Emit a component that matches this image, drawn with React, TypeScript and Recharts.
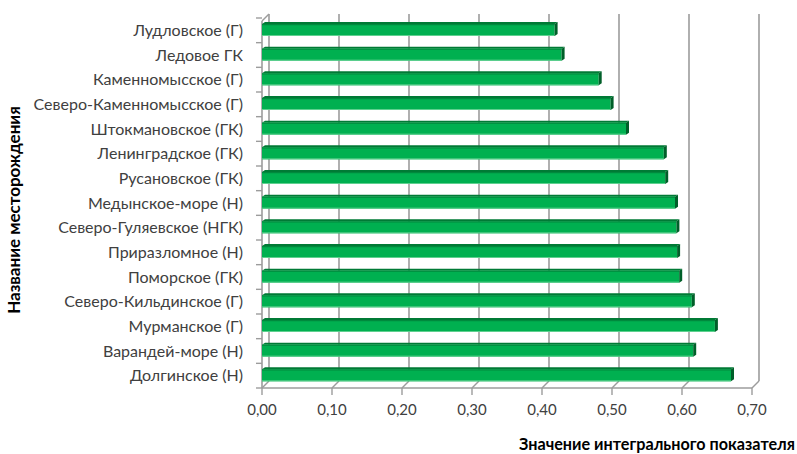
import { Bar, BarChart, CartesianGrid, XAxis, YAxis } from "recharts";

const fields = [
  "Лудловское (Г)",
  "Ледовое ГК",
  "Каменномысское (Г)",
  "Северо-Каменномысское (Г)",
  "Штокмановское (ГК)",
  "Ленинградское (ГК)",
  "Русановское (ГК)",
  "Медынское-море (Н)",
  "Северо-Гуляевское (НГК)",
  "Приразломное (Н)",
  "Поморское (ГК)",
  "Северо-Кильдинское (Г)",
  "Мурманское (Г)",
  "Варандей-море (Н)",
  "Долгинское (Н)",
];
const scores = [0.418, 0.428, 0.481, 0.498, 0.52, 0.574, 0.576, 0.59, 0.592, 0.593, 0.596, 0.614, 0.647, 0.616, 0.67];
const xTicks = [0, 0.1, 0.2, 0.3, 0.4, 0.5, 0.6, 0.7];

const data = fields.map((name, i) => ({ name, value: scores[i] }));

const W = 797;
const H = 454;
const X_AXIS_H = 30;
const M = { top: 18, right: 45, bottom: 66 - X_AXIS_H, left: 0 };
const AXIS_W = 262;
const PLOT_H = H - M.top - M.bottom - X_AXIS_H;
const BAND = PLOT_H / fields.length;
const DX = 7; // depth offset of the back wall
const DY = 7;
const FONT = "Lato, 'Open Sans', sans-serif";
const GRID = "#9c9c9c";

// back-wall gridline + the short diagonal down to the front axis
function WallLine(props: any) {
  const { x1, y1, y2, index } = props;
  return (
    <g>
      <line x1={x1 + DX} y1={y1 - 4} x2={x1 + DX} y2={y2 - DY} stroke={GRID} strokeWidth={1.6} />
      <line x1={x1 + DX} y1={y2 - DY} x2={x1} y2={y2} stroke={GRID} strokeWidth={1.4} />
      {index === 0 && (
        <g>
          <line x1={x1} y1={y1 + 3} x2={x1} y2={y2} stroke={GRID} strokeWidth={1.6} />
          <line x1={x1} y1={y1 + 3} x2={x1 + DX} y2={y1 - 4} stroke={GRID} strokeWidth={1.4} />
        </g>
      )}
    </g>
  );
}

function FieldTick(props: any) {
  const { x, y, payload, index } = props;
  const ax = AXIS_W;
  return (
    <g>
      <line x1={ax - 6} y1={y - BAND / 2} x2={ax} y2={y - BAND / 2} stroke={GRID} strokeWidth={1.4} />
      {index === fields.length - 1 && (
        <line x1={ax - 6} y1={y + BAND / 2} x2={ax} y2={y + BAND / 2} stroke={GRID} strokeWidth={1.4} />
      )}
      <text x={x} y={y} dy="0.35em" textAnchor="end" fill="#404040" fontSize={16} fontFamily={FONT}>
        {payload.value}
      </text>
    </g>
  );
}

// flat bar with a thin top face and right end face
function Bar3D(props: any) {
  const { x, y, width, height } = props;
  const d = 3;
  const e = 2;
  return (
    <g>
      <polygon points={`${x},${y} ${x + d},${y - e} ${x + width + d},${y - e} ${x + width},${y}`} fill="#007a35" />
      <rect x={x} y={y} width={width} height={height} fill="#00b050" />
      <line x1={x} y1={y + 0.6} x2={x + width} y2={y + 0.6} stroke="#00893d" strokeWidth={1.2} />
      <line x1={x} y1={y + height - 0.5} x2={x + width} y2={y + height - 0.5} stroke="#5fd08f" strokeWidth={1} />
      <polygon
        points={`${x + width},${y} ${x + width + d},${y - e} ${x + width + d},${y + height - e} ${x + width},${y + height}`}
        fill="#005f29"
      />
    </g>
  );
}

export default function App() {
  return (
    <div style={{ position: "absolute", left: 0, top: 0, width: W, height: H, background: "#fff" }}>
      <BarChart width={W} height={H} data={data} layout="vertical" margin={M} barSize={12}>
        <CartesianGrid horizontal={false} vertical={(p: any) => <WallLine {...p} />} />
        <XAxis
          type="number"
          domain={[0, 0.7]}
          ticks={xTicks}
          tickFormatter={(v: number) => v.toFixed(2).replace(".", ",")}
          axisLine={{ stroke: GRID, strokeWidth: 1.6 }}
          tickLine={{ stroke: GRID, strokeWidth: 1.4 }}
          tickSize={7}
          tickMargin={9}
          height={X_AXIS_H}
          tick={{ fill: "#404040", fontSize: 15, fontFamily: FONT }}
          label={{
            content: () => (
              <text
                x={657}
                y={443}
                textAnchor="middle"
                dominantBaseline="central"
                fontSize={16.2}
                fontWeight={700}
                fill="#000"
                fontFamily={FONT}
              >
                Значение интегрального показателя
              </text>
            ),
          }}
        />
        <YAxis
          type="category"
          dataKey="name"
          width={AXIS_W}
          axisLine={false}
          tickLine={false}
          tickSize={6}
          tickMargin={13}
          interval={0}
          tick={<FieldTick />}
          label={{
            content: () => (
              <text
                x={13}
                y={210}
                transform="rotate(-90 13 210)"
                textAnchor="middle"
                dominantBaseline="central"
                fontSize={17}
                fontWeight={700}
                fill="#000"
                fontFamily={FONT}
              >
                Название месторождения
              </text>
            ),
          }}
        />
        <Bar dataKey="value" shape={<Bar3D />} isAnimationActive={false} />
      </BarChart>
    </div>
  );
}
